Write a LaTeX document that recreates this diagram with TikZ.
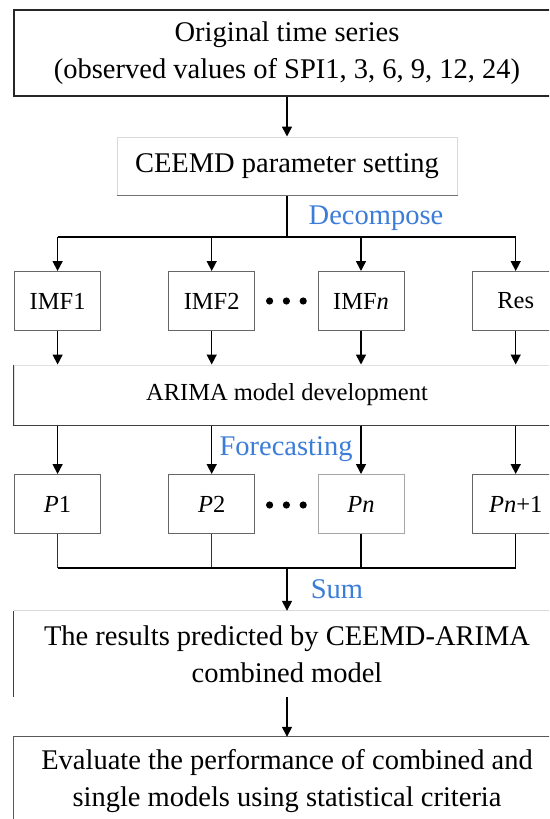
\documentclass[tikz,border=0pt]{standalone}
\usepackage{fontspec}
\setmainfont{Liberation Serif}
\usetikzlibrary{arrows.meta}
\definecolor{lblblue}{RGB}{59,125,216}
\begin{document}
\begin{tikzpicture}[x=1pt,y=-1pt,
  big/.style={font=\fontsize{28.5}{37}\selectfont, align=center, inner sep=0pt, minimum width=546pt},
  small/.style={font=\fontsize{24.5}{30}\selectfont, inner sep=0pt, minimum width=86pt, minimum height=59pt, draw=black!60, line width=1pt},
  lbl/.style={font=\fontsize{28.5}{34}\selectfont, text=lblblue, anchor=base, inner sep=0pt},
  arr/.style={line width=1.5pt, -{Triangle[length=10pt,width=10pt]}},
  ln/.style={line width=1.5pt},
  dot/.style={fill=black}]
\useasboundingbox (0,0) rectangle (549,819);
\fill[white] (0,0) rectangle (549,819);
\clip (0,0) rectangle (549,819);

% boxes
\node[big, draw=black!85, line width=1.2pt, minimum height=86pt] (orig) at (287,53)
  {Original time series\\(observed values of SPI1, 3, 6, 9, 12, 24)};
\node[big, draw=black!15, line width=1pt, minimum width=340pt, minimum height=58pt] (ceemd) at (287,166)
  {CEEMD parameter setting};
\draw[black!55, line width=1.2pt] (ceemd.south west) -- (ceemd.south east);

\node[small] (imf1) at (57.6,301) {IMF1};
\node[small] (imf2) at (211.7,301) {IMF2};
\node[small] (imfn) at (361,301) {IMF\textit{n}};
\node[small] (res)  at (515.7,301) {Res};

\node[big, font=\fontsize{24.5}{30}\selectfont, draw=black!12, line width=1pt, minimum height=60pt] (arima) at (287,395)
  {ARIMA model development};
\draw[black!75, line width=1.2pt] (arima.north west) -- (arima.south west) -- (arima.south east);

\node[small] (p1)  at (57.6,504) {\textit{P}1};
\node[small] (p2)  at (211.7,504) {\textit{P}2};
\node[small, draw=black!35] (pn)  at (361,504) {\textit{Pn}};
\node[small] (pn1) at (515.7,504) {\textit{Pn}+1};

\node[big, minimum height=86pt] (results) at (287,654)
  {The results predicted by CEEMD-ARIMA\\combined model};
\draw[black!15, line width=1pt] (results.north west) -- (results.north east);
\draw[black!75, line width=1.2pt] (results.north west) -- (results.south west);

\node[big, minimum height=88pt] (eval) at (287,781)
  {Evaluate the performance of combined and\\single models using statistical criteria};
\draw[black!65, line width=1.2pt] (eval.south west) -- (eval.north west) -- (eval.north east);

% dots
\foreach \y in {301,505} {
  \fill[dot] (269.6,\y) circle (3.6pt);
  \fill[dot] (286.4,\y) circle (3.6pt);
  \fill[dot] (303.2,\y) circle (3.6pt);
}

% connectors
\coordinate (dsplit) at (287,237);
\coordinate (ssplit) at (287,568);
\draw[arr] (orig.south) -- (ceemd.north);
\draw[ln] (ceemd.south) -- (dsplit);
\draw[ln] (imf1.north |- dsplit) -- (res.north |- dsplit);
\foreach \n in {imf1,imf2,imfn,res} {
  \draw[arr] (\n.north |- dsplit) -- (\n.north);
  \draw[arr] (\n.south) -- (\n.south |- arima.north);
}
\foreach \n in {p1,p2,pn,pn1} {
  \draw[arr] (\n.north |- arima.south) -- (\n.north);
}
\draw[line width=1pt, black!80] (p1.south) -- (p1.south |- ssplit);
\draw[line width=1pt, black!80] (p2.south) -- (p2.south |- ssplit);
\draw[ln] (pn.south) -- (pn.south |- ssplit);
\draw[ln] (pn1.south) -- (pn1.south |- ssplit);
\draw[ln] (p1.south |- ssplit) -- (pn1.south |- ssplit);
\draw[arr] (ssplit) -- (results.north);
\draw[arr] (results.south) -- (eval.north);

% labels
\node[lbl] (ldec) at (376,224) {Decompose};
\node[lbl] (lfor) at (286,455) {Forecasting};
\node[lbl] (lsum) at (337,598) {Sum};
\end{tikzpicture}
\end{document}
